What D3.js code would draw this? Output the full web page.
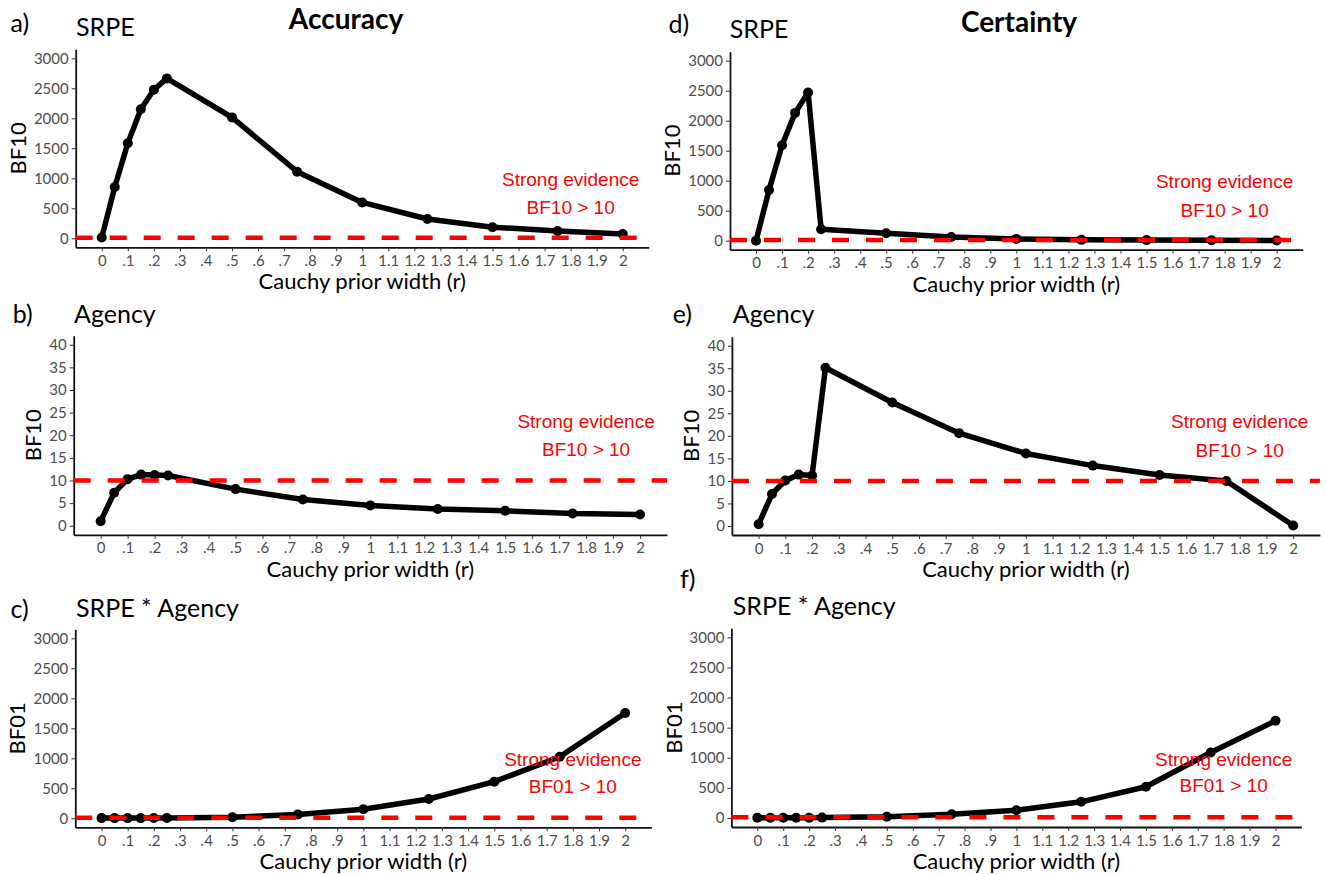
<!DOCTYPE html>
<html>
<head>
<meta charset="utf-8">
<script src="https://cdn.jsdelivr.net/npm/d3@7"></script>
<style>
  body { margin: 0; background: #fff; }
  svg { display: block; }
</style>
</head>
<body>
<svg id="chart"></svg>
<script>
// Chart size
const width = 1326;
const height = 874;

// Data ------------------------------------------------------------------------
const priorWidths = [0, 0.05, 0.1, 0.15, 0.2, 0.25, 0.5, 0.75, 1, 1.25, 1.5, 1.75, 2];

const accuracySrpe        = [12, 855, 1585, 2150, 2475, 2665, 2015, 1110, 598, 322, 185, 122, 70];
const accuracyAgency      = [1.0, 7.3, 10.3, 11.3, 11.2, 11.1, 8.1, 5.8, 4.5, 3.7, 3.3, 2.7, 2.5];
const accuracyInteraction = [3, 3, 3, 3, 4, 6, 18, 65, 150, 322, 611, 1025, 1755];

const certaintySrpe        = [0, 845, 1590, 2130, 2470, 190, 123, 62, 30, 14, 10, 8, 3];
const certaintyAgency      = [0.4, 7.1, 10.1, 11.4, 11.2, 35.1, 27.4, 20.6, 16.1, 13.4, 11.3, 10.0, 0.1];
const certaintyInteraction = [3, 3, 3, 3, 4, 6, 22, 62, 128, 268, 518, 1088, 1614];

const xTickValues = [0, 0.1, 0.2, 0.3, 0.4, 0.5, 0.6, 0.7, 0.8, 0.9, 1,
                     1.1, 1.2, 1.3, 1.4, 1.5, 1.6, 1.7, 1.8, 1.9, 2];
const bigTicks = [0, 500, 1000, 1500, 2000, 2500, 3000];
const smallTicks = [0, 5, 10, 15, 20, 25, 30, 35, 40];

const threshold = 10;
const columnHeaders = ["Accuracy", "Certainty"];

// Visual constants --------------------------------------------------------------
const FONT = "Lato, 'Open Sans', sans-serif";
const ANNOT_FONT = "'Liberation Sans', Arial, sans-serif";
const LINE_WIDTH = 5.5;
const POINT_RADIUS = 5;
const RED = "#ff0000";

// Panel layout (pixel boxes of each plot area, x domain -0.1..2.1)
const panels = [
  { letter: "a)", title: "SRPE", yLabel: "BF10", values: accuracySrpe, ticks: bigTicks,
    yDomain: [-150, 3150], box: { left: 75.7, right: 648.8, top: 49.3, bottom: 247.3 },
    letterPos: [10.6, 32], titlePos: [76, 36], annot: ["Strong evidence", "BF10 > 10"], annotY: [865, 410] },
  { letter: "b)", title: "Agency", yLabel: "BF10", values: accuracyAgency, ticks: smallTicks,
    yDomain: [-2, 42], box: { left: 73.7, right: 667, top: 335.7, bottom: 534.8 },
    letterPos: [12.7, 323], titlePos: [74, 323], annot: ["Strong evidence", "BF10 > 10"], annotY: [21.7, 15.5] },
  { letter: "c)", title: "SRPE * Agency", yLabel: "BF01", values: accuracyInteraction, ticks: bigTicks,
    yDomain: [-150, 3150], box: { left: 75.3, right: 651.4, top: 629.3, bottom: 827.3 },
    letterPos: [10.6, 618], titlePos: [76, 617], annot: ["Strong evidence", "BF01 > 10"], annotY: [865, 415] },
  { letter: "d)", title: "SRPE", yLabel: "BF10", values: certaintySrpe, ticks: bigTicks,
    yDomain: [-150, 3150], box: { left: 730, right: 1302.7, top: 51.7, bottom: 249.7 },
    letterPos: [668.5, 33], titlePos: [729.8, 38], annot: ["Strong evidence", "BF10 > 10"], annotY: [873, 400] },
  { letter: "e)", title: "Agency", yLabel: "BF10", values: certaintyAgency, ticks: smallTicks,
    yDomain: [-2, 42], box: { left: 731.9, right: 1319.9, top: 336.7, bottom: 535 },
    letterPos: [672.7, 323], titlePos: [732.8, 323], annot: ["Strong evidence", "BF10 > 10"], annotY: [21.7, 15.4] },
  { letter: "f)", title: "SRPE * Agency", yLabel: "BF01", values: certaintyInteraction, ticks: bigTicks,
    yDomain: [-150, 3150], box: { left: 731.4, right: 1301.4, top: 628.3, bottom: 827 },
    letterPos: [680, 588], titlePos: [732.7, 615], annot: ["Strong evidence", "BF01 > 10"], annotY: [869, 427] }
];

const headerPos = [[346, 29], [1019, 32]];

// Drawing -------------------------------------------------------------------------
const svg = d3.select("#chart")
    .attr("width", width)
    .attr("height", height)
    .attr("viewBox", [0, 0, width, height]);

svg.append("rect").attr("width", width).attr("height", height).attr("fill", "#fff");

columnHeaders.forEach((h, i) => {
  svg.append("text")
      .attr("x", headerPos[i][0])
      .attr("y", headerPos[i][1])
      .attr("text-anchor", "middle")
      .attr("font-family", FONT)
      .attr("font-weight", "bold")
      .attr("font-size", 28)
      .text(h);
});

function formatRadius(d) {
  return d3.format("~g")(d).replace(/^0\./, ".");
}

panels.forEach(p => drawPanel(p));

function drawPanel(p) {
  const b = p.box;
  const x = d3.scaleLinear().domain([-0.1, 2.1]).range([b.left, b.right]);
  const y = d3.scaleLinear().domain(p.yDomain).range([b.bottom, b.top]);

  const g = svg.append("g");

  // letter and title
  g.append("text")
      .attr("x", p.letterPos[0]).attr("y", p.letterPos[1])
      .attr("font-family", FONT).attr("font-size", 25)
      .text(p.letter);
  g.append("text")
      .attr("x", p.titlePos[0]).attr("y", p.titlePos[1])
      .attr("font-family", FONT).attr("font-size", 25)
      .text(p.title);

  // axes
  const xAxis = g.append("g")
      .attr("transform", `translate(0,${b.bottom})`)
      .call(d3.axisBottom(x).tickValues(xTickValues).tickFormat(formatRadius)
          .tickSize(4).tickSizeOuter(0).tickPadding(4));
  const yAxis = g.append("g")
      .attr("transform", `translate(${b.left},0)`)
      .call(d3.axisLeft(y).tickValues(p.ticks).tickFormat(d3.format("d"))
          .tickSize(4).tickSizeOuter(0).tickPadding(3));

  [xAxis, yAxis].forEach(ax => {
    ax.select(".domain").attr("stroke", "#111").attr("stroke-width", 1.8);
    ax.selectAll(".tick line").attr("stroke", "#333").attr("stroke-width", 1);
    ax.selectAll(".tick text").attr("fill", "#4d4d4d").attr("font-family", FONT);
  });
  xAxis.selectAll(".tick text").attr("font-size", 15);
  yAxis.selectAll(".tick text").attr("font-size", 15);

  // axis titles
  g.append("text")
      .attr("x", (b.left + b.right) / 2)
      .attr("y", b.bottom + 42)
      .attr("text-anchor", "middle")
      .attr("font-family", FONT).attr("font-size", 22)
      .text("Cauchy prior width (r)");

  const labelLeft = yAxis.node().getBBox().x + b.left;
  g.append("text")
      .attr("transform", `translate(${labelLeft - 8},${(b.top + b.bottom) / 2}) rotate(-90)`)
      .attr("text-anchor", "middle")
      .attr("font-family", FONT).attr("font-size", 22)
      .text(p.yLabel);

  // series
  const points = priorWidths.map((r, i) => [r, p.values[i]]);
  g.append("path")
      .datum(points)
      .attr("fill", "none")
      .attr("stroke", "#000")
      .attr("stroke-width", LINE_WIDTH)
      .attr("stroke-linejoin", "round")
      .attr("d", d3.line().x(d => x(d[0])).y(d => y(d[1])));
  g.append("g")
      .selectAll("circle")
      .data(points)
      .join("circle")
        .attr("cx", d => x(d[0]))
        .attr("cy", d => y(d[1]))
        .attr("r", POINT_RADIUS)
        .attr("fill", "#000");

  // threshold line drawn on top
  g.append("line")
      .attr("x1", b.left).attr("x2", b.right)
      .attr("y1", y(threshold)).attr("y2", y(threshold))
      .attr("stroke", RED)
      .attr("stroke-width", 4.5)
      .attr("stroke-dasharray", "17 17");

  // annotation
  p.annot.forEach((t, i) => {
    g.append("text")
        .attr("x", x(1.8))
        .attr("y", y(p.annotY[i]))
        .attr("text-anchor", "middle")
        .attr("font-family", ANNOT_FONT)
        .attr("font-size", 19)
        .attr("fill", RED)
        .text(t);
  });
}
</script>
</body>
</html>
